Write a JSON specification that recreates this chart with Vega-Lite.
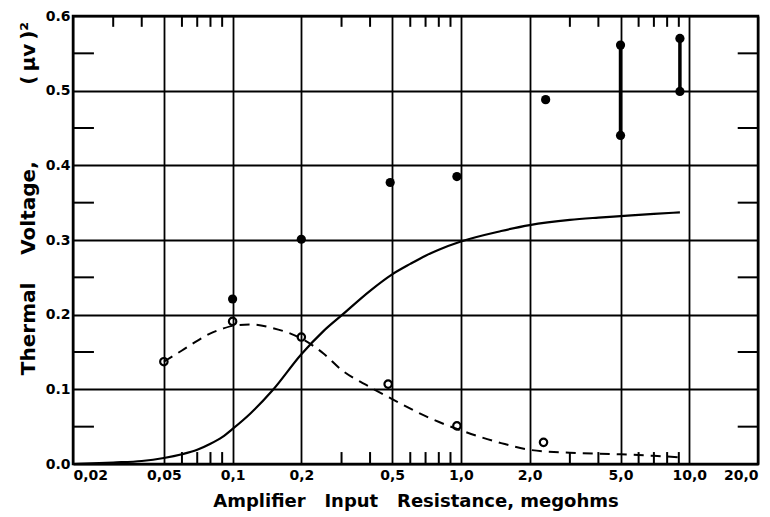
{
  "$schema": "https://vega.github.io/schema/vega-lite/v6.json",
  "width": 685,
  "height": 448,
  "autosize": {"type": "none"},
  "padding": {"left": 73, "top": 16, "right": 12, "bottom": 53},
  "background": "white",
  "config": {
    "view": {"stroke": "black", "strokeWidth": 2.5},
    "axis": {
      "labelFont": "DejaVu Sans",
      "labelFontWeight": "bold",
      "labelFontSize": 14,
      "labelColor": "black",
      "titleFont": "DejaVu Sans",
      "titleFontWeight": "bold",
      "titleFontSize": 18,
      "titleColor": "black",
      "gridColor": "black",
      "gridOpacity": 1,
      "gridWidth": 1.8,
      "tickColor": "black",
      "tickWidth": 1.6
    }
  },
  "datasets": {
    "solid": [
      {"r": 0.02, "v": 0.0}, {"r": 0.03, "v": 0.002}, {"r": 0.04, "v": 0.004}, {"r": 0.05, "v": 0.008},
      {"r": 0.06, "v": 0.013}, {"r": 0.07, "v": 0.019}, {"r": 0.08, "v": 0.027}, {"r": 0.09, "v": 0.036},
      {"r": 0.1, "v": 0.047}, {"r": 0.12, "v": 0.068}, {"r": 0.15, "v": 0.099}, {"r": 0.2, "v": 0.147},
      {"r": 0.25, "v": 0.178}, {"r": 0.3, "v": 0.199}, {"r": 0.4, "v": 0.232}, {"r": 0.5, "v": 0.254},
      {"r": 0.6, "v": 0.268}, {"r": 0.7, "v": 0.279}, {"r": 0.8, "v": 0.287}, {"r": 1.0, "v": 0.298},
      {"r": 1.5, "v": 0.312}, {"r": 2.0, "v": 0.320}, {"r": 3.0, "v": 0.327}, {"r": 4.0, "v": 0.330},
      {"r": 5.0, "v": 0.332}, {"r": 7.0, "v": 0.335}, {"r": 9.1, "v": 0.337}
    ],
    "dashed": [
      {"r": 0.05, "v": 0.137}, {"r": 0.06, "v": 0.152}, {"r": 0.07, "v": 0.165}, {"r": 0.08, "v": 0.175},
      {"r": 0.09, "v": 0.181}, {"r": 0.1, "v": 0.185}, {"r": 0.12, "v": 0.187}, {"r": 0.15, "v": 0.182},
      {"r": 0.2, "v": 0.168}, {"r": 0.25, "v": 0.148}, {"r": 0.3, "v": 0.126}, {"r": 0.4, "v": 0.103},
      {"r": 0.5, "v": 0.087}, {"r": 0.7, "v": 0.064}, {"r": 1.0, "v": 0.045}, {"r": 1.5, "v": 0.028},
      {"r": 2.0, "v": 0.019}, {"r": 3.0, "v": 0.015}, {"r": 5.0, "v": 0.013}, {"r": 7.0, "v": 0.011},
      {"r": 9.0, "v": 0.009}
    ],
    "open": [
      {"r": 0.05, "v": 0.137}, {"r": 0.1, "v": 0.191}, {"r": 0.2, "v": 0.17},
      {"r": 0.48, "v": 0.107}, {"r": 0.96, "v": 0.051}, {"r": 2.3, "v": 0.029}
    ],
    "filled": [
      {"r": 0.1, "v": 0.221}, {"r": 0.2, "v": 0.301}, {"r": 0.49, "v": 0.377}, {"r": 0.96, "v": 0.385},
      {"r": 2.35, "v": 0.488}, {"r": 5.0, "v": 0.561}, {"r": 5.0, "v": 0.44}, {"r": 9.1, "v": 0.57},
      {"r": 9.1, "v": 0.499}
    ],
    "pairs": [
      {"r": 5.0, "lo": 0.44, "hi": 0.561},
      {"r": 9.1, "lo": 0.499, "hi": 0.57}
    ],
    "xminorBottom": [
      {"r": 0.06}, {"r": 0.07}, {"r": 0.08}, {"r": 0.09}, {"r": 0.3}, {"r": 0.4},
      {"r": 0.6}, {"r": 0.7}, {"r": 0.8}, {"r": 0.9}, {"r": 3}, {"r": 4},
      {"r": 6}, {"r": 7}, {"r": 8}, {"r": 9}
    ],
    "xminorTop": [
      {"r": 0.03}, {"r": 0.04}, {"r": 0.06}, {"r": 0.07}, {"r": 0.08}, {"r": 0.09}, {"r": 0.3}, {"r": 0.4},
      {"r": 0.6}, {"r": 0.7}, {"r": 0.8}, {"r": 0.9}, {"r": 3}, {"r": 4},
      {"r": 6}, {"r": 7}, {"r": 8}, {"r": 9}
    ],
    "yminor": [
      {"v": 0.05}, {"v": 0.15}, {"v": 0.25}, {"v": 0.35}, {"v": 0.45}, {"v": 0.55}
    ]
  },
  "layer": [
    {
      "data": {"name": "solid"},
      "mark": {"type": "line", "color": "black", "strokeWidth": 2.2, "interpolate": "monotone"},
      "encoding": {
        "x": {
          "field": "r", "type": "quantitative",
          "scale": {"type": "log", "domain": [0.02, 20], "nice": false},
          "axis": {
            "orient": "bottom",
            "values": [0.02, 0.05, 0.1, 0.2, 0.5, 1, 2, 5, 10, 20],
            "grid": true, "ticks": false, "domain": false,
            "labelPadding": 4,
            "labelExpr": "replace(datum.value < 0.095 ? format(datum.value, '.2f') : format(datum.value, '.1f'), '.', ',')",
            "title": "Amplifier\u00a0\u00a0\u00a0Input\u00a0\u00a0\u00a0Resistance,\u00a0megohms",
            "titlePadding": 10
          }
        },
        "y": {
          "field": "v", "type": "quantitative",
          "scale": {"domain": [0, 0.6], "nice": false},
          "axis": {
            "orient": "left",
            "values": [0, 0.1, 0.2, 0.3, 0.4, 0.5, 0.6],
            "grid": true, "ticks": false, "domain": false,
            "format": ".1f",
            "labelPadding": 3,
            "title": "Thermal\u00a0\u00a0\u00a0\u00a0Voltage,\u00a0\u00a0\u00a0\u00a0\u00a0\u00a0\u00a0\u00a0\u00a0\u00a0\u00a0(\u2009μv\u2009)²",
            "titleFontSize": 20,
            "titleX": -35,
            "titleY": 182,
            "titleBaseline": "bottom",
            "titleAngle": -90,
            "titleAlign": "center"
          }
        }
      }
    },
    {
      "data": {"name": "dashed"},
      "mark": {"type": "line", "color": "black", "strokeWidth": 2, "strokeDash": [10, 7], "interpolate": "monotone"},
      "encoding": {
        "x": {"field": "r", "type": "quantitative"},
        "y": {"field": "v", "type": "quantitative"}
      }
    },
    {
      "data": {"name": "xminorBottom"},
      "mark": {"type": "rule", "color": "black", "strokeWidth": 2},
      "encoding": {
        "x": {"field": "r", "type": "quantitative"},
        "y": {"datum": 0},
        "y2": {"datum": 0.016}
      }
    },
    {
      "data": {"name": "xminorTop"},
      "mark": {"type": "rule", "color": "black", "strokeWidth": 2},
      "encoding": {
        "x": {"field": "r", "type": "quantitative"},
        "y": {"datum": 0.6},
        "y2": {"datum": 0.5855}
      }
    },
    {
      "data": {"name": "yminor"},
      "mark": {"type": "rule", "color": "black", "strokeWidth": 2},
      "encoding": {
        "y": {"field": "v", "type": "quantitative"},
        "x": {"datum": 0.02},
        "x2": {"datum": 0.0247}
      }
    },
    {
      "data": {"name": "yminor"},
      "mark": {"type": "rule", "color": "black", "strokeWidth": 2},
      "encoding": {
        "y": {"field": "v", "type": "quantitative"},
        "x": {"datum": 16.3},
        "x2": {"datum": 20}
      }
    },
    {
      "data": {"name": "open"},
      "mark": {"type": "point", "shape": "circle", "filled": false, "color": "black", "strokeWidth": 2.2, "size": 55, "opacity": 1},
      "encoding": {
        "x": {"field": "r", "type": "quantitative"},
        "y": {"field": "v", "type": "quantitative"}
      }
    },
    {
      "data": {"name": "pairs"},
      "mark": {"type": "rule", "color": "black", "strokeWidth": 3.5},
      "encoding": {
        "x": {"field": "r", "type": "quantitative"},
        "y": {"field": "lo", "type": "quantitative"},
        "y2": {"field": "hi"}
      }
    },
    {
      "data": {"name": "filled"},
      "mark": {"type": "point", "shape": "circle", "filled": true, "color": "black", "size": 85, "opacity": 1},
      "encoding": {
        "x": {"field": "r", "type": "quantitative"},
        "y": {"field": "v", "type": "quantitative"}
      }
    }
  ]
}
